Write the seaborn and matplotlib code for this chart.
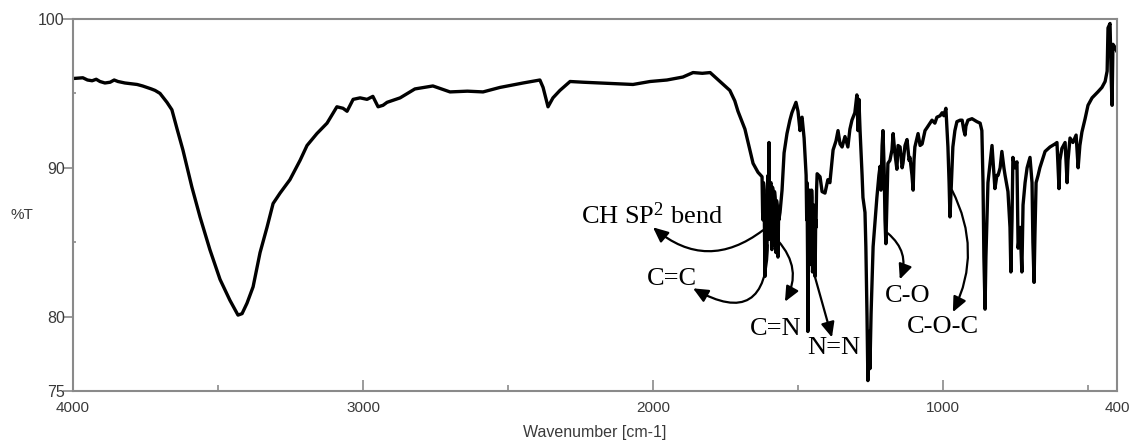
import matplotlib
matplotlib.use("Agg")
import matplotlib.pyplot as plt
import numpy as np
import pandas as pd
import seaborn as sns

# ---------------- data ----------------
# 4000-2900 cm-1 : O-H band region
wn_oh = [4000, 3966, 3950, 3934, 3920, 3907, 3890, 3872, 3858, 3845, 3821, 3800,
         3779, 3760, 3745, 3730, 3717, 3700, 3676, 3659, 3641, 3621, 3590, 3562,
         3528, 3493, 3459, 3431, 3417, 3400, 3379, 3355, 3331, 3310, 3286, 3252,
         3217, 3193, 3159, 3124, 3090, 3069, 3055, 3034, 3010, 2986, 2966, 2948,
         2931, 2917]
t_oh = [96.0, 96.05, 95.9, 95.85, 95.95, 95.8, 95.7, 95.75, 95.9, 95.8, 95.7, 95.65,
        95.6, 95.5, 95.4, 95.3, 95.2, 95.0, 94.4, 93.9, 92.6, 91.2, 88.7, 86.7,
        84.5, 82.5, 81.1, 80.1, 80.2, 80.9, 82.0, 84.3, 86.0, 87.6, 88.3, 89.2,
        90.5, 91.5, 92.3, 93.0, 94.1, 94.0, 93.8, 94.6, 94.7, 94.6, 94.8, 94.1,
        94.2, 94.4]

# 2900-1630 cm-1 : plateau with CO2 dip
wn_mid = [2872, 2821, 2790, 2759, 2730, 2700, 2640, 2586, 2528, 2448, 2390, 2379,
          2362, 2345, 2321, 2286, 2240, 2183, 2120, 2069, 2010, 1952, 1897, 1862,
          1830, 1803, 1769, 1735, 1718, 1707, 1683, 1666, 1655, 1638]
t_mid = [94.7, 95.3, 95.4, 95.5, 95.3, 95.1, 95.15, 95.1, 95.4, 95.7, 95.9, 95.4,
         94.1, 94.7, 95.2, 95.8, 95.75, 95.7, 95.65, 95.6, 95.8, 95.9, 96.1, 96.4,
         96.35, 96.4, 95.8, 95.2, 94.5, 93.8, 92.6, 91.2, 90.3, 89.7]

# 1630-1560 cm-1 : C=C / CH bend cluster
wn_cc = [1624, 1622, 1621, 1619, 1617, 1615, 1614, 1612, 1610, 1608, 1607, 1605,
         1603, 1601, 1600, 1598, 1597, 1595, 1593, 1591, 1590, 1588, 1586, 1584,
         1583, 1581, 1579, 1577, 1576, 1574, 1572, 1570, 1569, 1567, 1566, 1562]
t_cc = [89.4, 87.0, 86.5, 89.0, 88.5, 84.5, 82.7, 87.0, 88.0, 84.8, 85.5, 88.8,
        89.5, 86.0, 91.7, 85.2, 86.0, 88.9, 89.0, 84.6, 84.5, 88.7, 88.5, 84.8,
        85.0, 88.4, 88.0, 84.5, 84.3, 87.8, 87.5, 84.2, 84.0, 86.8, 86.5, 87.0]

# 1560-1220 cm-1 : C=N, N=N bands
wn_nn = [1555, 1548, 1538, 1528, 1521, 1507, 1500, 1493, 1490, 1486, 1479, 1472,
         1470, 1469, 1467, 1466, 1464, 1462, 1460, 1459, 1457, 1455, 1453, 1452,
         1450, 1448, 1446, 1445, 1443, 1441, 1439, 1438, 1436, 1434, 1424, 1417,
         1407, 1397, 1390, 1379, 1369, 1362, 1355, 1348, 1338, 1328, 1321, 1314,
         1304, 1297, 1293, 1290, 1286, 1279, 1276, 1269, 1266, 1262, 1259, 1255,
         1252, 1248, 1241, 1234, 1228, 1221]
t_nn = [88.5, 91.0, 92.3, 93.2, 93.7, 94.4, 93.8, 92.5, 93.3, 93.4, 92.0, 89.5,
        86.5, 89.0, 84.0, 79.0, 86.0, 84.0, 88.5, 87.5, 83.5, 84.5, 88.5, 88.0,
        83.0, 83.5, 87.5, 87.0, 83.0, 82.7, 86.5, 86.0, 88.5, 89.6, 89.4, 88.4,
        88.3, 89.2, 89.0, 91.2, 91.8, 92.5, 91.6, 91.4, 92.1, 91.4, 92.6, 93.2,
        93.7, 94.9, 92.5, 94.6, 92.5, 89.5, 88.0, 87.0, 84.7, 80.0, 75.7, 79.0,
        76.5, 80.2, 84.7, 86.5, 88.0, 89.5]

# 1220-860 cm-1 : C-O, C-O-C bands
wn_co = [1217, 1214, 1210, 1207, 1203, 1200, 1197, 1193, 1190, 1183, 1176, 1172,
         1166, 1159, 1155, 1148, 1141, 1138, 1131, 1124, 1117, 1114, 1107, 1103,
         1100, 1097, 1086, 1079, 1072, 1062, 1055, 1045, 1038, 1028, 1021, 1010,
         1003, 997, 990, 983, 979, 976, 972, 966, 959, 952, 941, 934, 928, 924,
         921, 914, 900, 883, 872, 866, 862]
t_co = [90.1, 88.5, 91.5, 92.5, 90.0, 86.5, 84.9, 88.0, 90.3, 90.5, 91.2, 92.3,
        91.0, 89.9, 91.5, 91.4, 90.0, 90.3, 91.5, 91.9, 90.5, 90.7, 89.5, 88.5,
        90.5, 91.4, 92.3, 91.5, 91.6, 92.5, 92.7, 93.0, 93.2, 93.0, 93.4, 93.5,
        93.7, 93.5, 94.0, 91.4, 89.0, 86.7, 88.5, 91.4, 92.5, 93.1, 93.2, 93.2,
        92.5, 92.2, 92.8, 93.2, 93.3, 93.1, 93.0, 92.5, 89.0]

# 860-400 cm-1 : low-frequency region
wn_low = [859, 855, 852, 845, 831, 824, 821, 814, 810, 803, 797, 790, 786, 776,
          769, 766, 762, 759, 752, 745, 741, 734, 728, 724, 717, 710, 700, 693,
          690, 686, 683, 679, 672, 666, 648, 631, 614, 607, 603, 600, 597, 590,
          579, 572, 569, 562, 552, 541, 534, 528, 521, 510, 500, 486, 476, 466,
          452, 441, 434, 431, 424, 420, 417, 414, 407, 400]
t_low = [84.0, 80.5, 84.0, 89.0, 91.5, 89.5, 88.6, 89.5, 89.5, 90.0, 91.1, 90.0,
         89.5, 88.4, 86.0, 83.0, 86.5, 90.7, 90.0, 90.4, 84.6, 86.0, 83.0, 87.5,
         89.0, 90.0, 90.7, 89.0, 85.0, 82.3, 85.5, 89.0, 89.5, 90.0, 91.1, 91.4,
         91.6, 91.7, 90.0, 88.6, 90.5, 91.3, 91.7, 89.0, 90.5, 92.0, 91.7, 92.2,
         90.0, 91.5, 92.4, 93.3, 94.2, 94.7, 94.9, 95.1, 95.4, 95.8, 96.5, 99.4,
         99.7, 96.0, 94.2, 98.3, 98.1, 97.8]

x_major_ticks = [4000, 3000, 2000, 1000, 400]
x_minor_ticks = [3500, 2500, 1500, 500]
y_major_ticks = [75, 80, 90, 100]
y_minor_ticks = [85, 95]

band_labels = ["CH SP$^{\\mathregular{2}}$ bend", "C=C", "C=N", "N=N", "C-O", "C-O-C"]
label_xy = [(2004, 86.8), (1935, 82.5), (1576, 79.2), (1376, 77.9), (1121, 81.4), (1000, 79.3)]
arrow_from = [(1621, 85.8), (1604, 84.8), (1569, 85.1), (1442, 82.7), (1190, 85.6), (969, 88.5)]
arrow_to = [(2000, 86.0), (1862, 81.9), (1545, 81.0), (1383, 78.6), (1149, 82.5), (966, 80.3)]
arrow_rad = [-0.4, -0.85, -0.35, 0.0, -0.35, -0.25]

# ---------------- plotting ----------------
sns.set_theme(style="white")
plt.rcParams["font.family"] = ["Liberation Sans", "DejaVu Sans"]
plt.rcParams["mathtext.fontset"] = "custom"
plt.rcParams["mathtext.rm"] = "Liberation Serif"
plt.rcParams["mathtext.default"] = "regular"

df = pd.DataFrame({
    "wavenumber": wn_oh + wn_mid + wn_cc + wn_nn + wn_co + wn_low,
    "T": t_oh + t_mid + t_cc + t_nn + t_co + t_low,
})

fig = plt.figure(figsize=(11.29, 4.41), dpi=100)
ax = fig.add_axes([73 / 1129, 1 - 391 / 441, 1044 / 1129, 372 / 441])

sns.lineplot(data=df, x="wavenumber", y="T", ax=ax, color="black",
             linewidth=2.4, estimator=None, sort=False)

ax.set_xlim(4000, 400)
ax.set_ylim(75, 100)

frame_color = "#8a8a8a"
text_color = "#3a3a3a"
for sp in ax.spines.values():
    sp.set_visible(True)
    sp.set_color(frame_color)
    sp.set_linewidth(1.5)

ax.set_xticks(x_major_ticks)
ax.set_xticklabels([str(v) for v in x_major_ticks])
ax.set_xticks(x_minor_ticks, minor=True)
ax.set_yticks(y_major_ticks)
ax.set_yticklabels([str(v) for v in y_major_ticks])
ax.set_yticks(y_minor_ticks, minor=True)

ax.tick_params(axis="x", which="major", direction="in", length=8, width=1.2,
               color=frame_color, labelsize=11, labelcolor=text_color, pad=7,
               bottom=True, top=False)
ax.tick_params(axis="x", which="minor", direction="in", length=4.5, width=1.2,
               color=frame_color, bottom=True, top=False)
ax.tick_params(axis="y", which="major", direction="out", length=7, width=1.2,
               color=frame_color, labelsize=11.5, labelcolor=text_color, pad=-1,
               left=True, right=False)
ax.tick_params(axis="y", which="minor", direction="in", length=2, width=1.2,
               color=frame_color, left=True, right=False)

ax.set_xlabel("Wavenumber [cm-1]", fontsize=11.5, color=text_color)
ax.xaxis.set_label_coords(0.5, -(432 - 391) / 372)
ax.xaxis.label.set_va("center")
ax.set_ylabel("%T", fontsize=11, color=text_color, rotation=0)
ax.yaxis.set_label_coords(-(73 - 22) / 1044, (391 - 215) / 372)
ax.yaxis.label.set_va("center")
ax.yaxis.label.set_ha("center")

for lab, pos in zip(band_labels, label_xy):
    ax.text(pos[0], pos[1], lab, ha="center", va="center", fontsize=19,
            family="Liberation Serif", color="black")

for a, b, r in zip(arrow_from, arrow_to, arrow_rad):
    ax.annotate("", xy=b, xytext=a,
                arrowprops=dict(arrowstyle="-|>,head_length=0.6,head_width=0.27",
                                color="black", lw=1.6, mutation_scale=15,
                                shrinkA=0, shrinkB=0,
                                connectionstyle=f"arc3,rad={r}"))

fig.savefig("out.png", dpi=100)
